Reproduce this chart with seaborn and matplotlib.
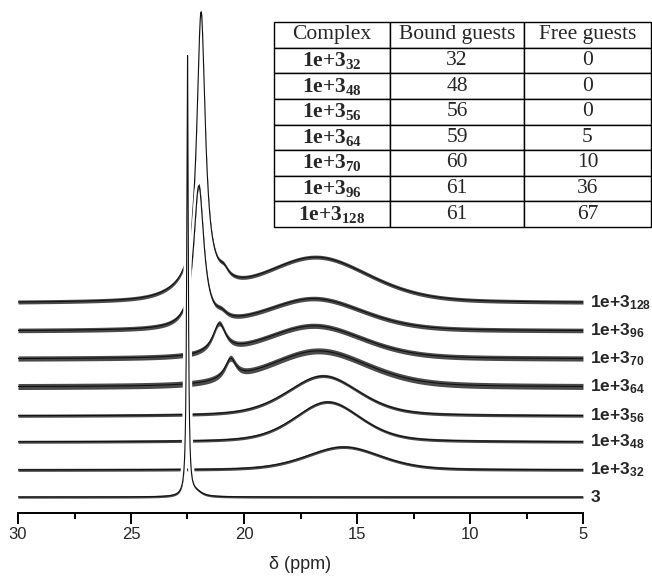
import numpy as np
import pandas as pd
import matplotlib
matplotlib.use("Agg")
import matplotlib.pyplot as plt
import seaborn as sns

# ---------------- data ----------------
samples = ["3", "32", "48", "56", "64", "70", "96", "128"]
trace_labels = [r"$\mathsf{3}$"] + [r"$\mathsf{1e{+}3_{%s}}$" % s for s in samples[1:]]
baseline_offsets = [16, 43, 71, 97, 126, 154, 182, 210]   # stacking offsets (arb. units)

# peak components: centre (ppm), height, FWHM (ppm),
# Lorentzian fraction of the line shape
peak_centers = {
    "3":   [22.5, 22.1],
    "32":  [15.6],
    "48":  [16.3],
    "56":  [16.5],
    "64":  [16.7, 20.6],
    "70":  [16.9, 21.1],
    "96":  [16.9, 22.0, 21.0],
    "128": [16.8, 21.9, 20.9, 22.0],
}
peak_heights = {
    "3":   [441, 4],
    "32":  [23],
    "48":  [40],
    "56":  [40],
    "64":  [36, 20],
    "70":  [33, 29],
    "96":  [32, 141, 6],
    "128": [45, 272, 8, 12],
}
peak_widths = {
    "3":   [0.08, 0.6],
    "32":  [3.9],
    "48":  [3.5],
    "56":  [3.8],
    "64":  [5.2, 0.6],
    "70":  [5.2, 0.7],
    "96":  [5.2, 0.55, 0.6],
    "128": [5.6, 0.45, 0.5, 2.5],
}
peak_lorentz = {
    "3":   [1.0, 1.0],
    "32":  [0.35],
    "48":  [0.4],
    "56":  [0.4],
    "64":  [0.35, 1.0],
    "70":  [0.35, 1.0],
    "96":  [0.35, 1.0, 1.0],
    "128": [0.35, 1.0, 1.0, 0.5],
}
noise_level = {"3": 1.2, "32": 1.5, "48": 1.5, "56": 1.6, "64": 3.0,
               "70": 2.6, "96": 2.3, "128": 2.0}

table_complex = ["32", "48", "56", "64", "70", "96", "128"]
table_bound = [32, 48, 56, 59, 60, 61, 61]
table_free = [0, 0, 0, 5, 10, 36, 67]

x_major = [30, 25, 20, 15, 10, 5]
x_minor = [27.5, 22.5, 17.5, 12.5, 7.5]

# ---------------- style ----------------
sns.set_theme(style="ticks")
plt.rcParams["font.family"] = ["Liberation Sans", "DejaVu Sans"]
plt.rcParams["mathtext.fontset"] = "custom"
plt.rcParams["mathtext.rm"] = "Liberation Serif"
plt.rcParams["mathtext.bf"] = "Liberation Serif:bold"
plt.rcParams["mathtext.sf"] = "Liberation Sans:bold"

fig = plt.figure(figsize=(6.52, 5.8), dpi=100)
ax = fig.add_axes([18 / 652, 67 / 580, 565 / 652, 513 / 580])

ppm = np.linspace(30, 5, 4000)


def line_shape(x, c, h, w, eta):
    g = (w / 2.0) ** 2
    lor = g / ((x - c) ** 2 + g)
    gau = np.exp(-4.0 * np.log(2.0) * (x - c) ** 2 / w ** 2)
    return h * (eta * lor + (1.0 - eta) * gau)


rows = []
for s, off in zip(samples, baseline_offsets):
    y = np.full_like(ppm, float(off))
    for c, h, w, e in zip(peak_centers[s], peak_heights[s], peak_widths[s], peak_lorentz[s]):
        y = y + line_shape(ppm, c, h, w, e)
    rows.append(pd.DataFrame({"ppm": ppm, "signal": y, "sample": s}))
df = pd.concat(rows, ignore_index=True)

# draw from top trace to bottom so lower traces sit in front
for i, s in enumerate(reversed(samples)):
    sub = df[df["sample"] == s]
    z = 2 + i * 3
    a = noise_level[s]
    sns.lineplot(data=sub, x="ppm", y="signal", ax=ax, color="white",
                 linewidth=4.5, estimator=None, sort=False, zorder=z, legend=False)
    ax.fill_between(sub["ppm"], sub["signal"] - a, sub["signal"] + a,
                    color="#2a2a2a", alpha=0.85, linewidth=0, zorder=z + 1)
    sns.lineplot(data=sub, x="ppm", y="signal", ax=ax, color="#111111",
                 linewidth=0.8, estimator=None, sort=False, zorder=z + 2, legend=False)

ax.set_xlim(30, 5)
ax.set_ylim(0, 513)
ax.set_xticks(x_major)
ax.set_xticklabels([str(v) for v in x_major], fontsize=12)
ax.set_xticks(x_minor, minor=True)
ax.set_yticks([])
ax.set_ylabel("")
ax.set_xlabel("δ (ppm)", fontsize=13, labelpad=10)
for sp in ["left", "top", "right"]:
    ax.spines[sp].set_visible(False)
ax.spines["bottom"].set_linewidth(1.4)
ax.spines["bottom"].set_color("black")
ax.tick_params(axis="x", which="major", direction="out", length=8, width=1.4,
               color="black", pad=2)
ax.tick_params(axis="x", which="minor", direction="out", length=4, width=1.4,
               color="black")
ax.set_facecolor("white")

# labels on the right
for lab, off in zip(trace_labels, baseline_offsets):
    ax.text(1.012, off, lab, transform=ax.get_yaxis_transform(),
            ha="left", va="center", fontsize=12.5, clip_on=False)

# table
cell_text = [[r"$\mathbf{1e{+}3_{%s}}$" % c, str(b), str(f)]
             for c, b, f in zip(table_complex, table_bound, table_free)]
tbl = ax.table(cellText=cell_text,
               colLabels=["Complex", "Bound guests", "Free guests"],
               colWidths=[116, 134, 127], cellLoc="center",
               bbox=[(274 - 18) / 565, (513 - 227) / 513, 377 / 565, 205 / 513])
tbl.auto_set_font_size(False)
tbl.set_fontsize(15.5)
for (r, c), cell in tbl.get_celld().items():
    cell.set_edgecolor("black")
    cell.set_linewidth(1.0)
    cell.set_facecolor("white")
    cell.get_text().set_fontfamily("Liberation Serif")
tbl.set_zorder(100)

fig.savefig("out.png", dpi=100, facecolor="white")
